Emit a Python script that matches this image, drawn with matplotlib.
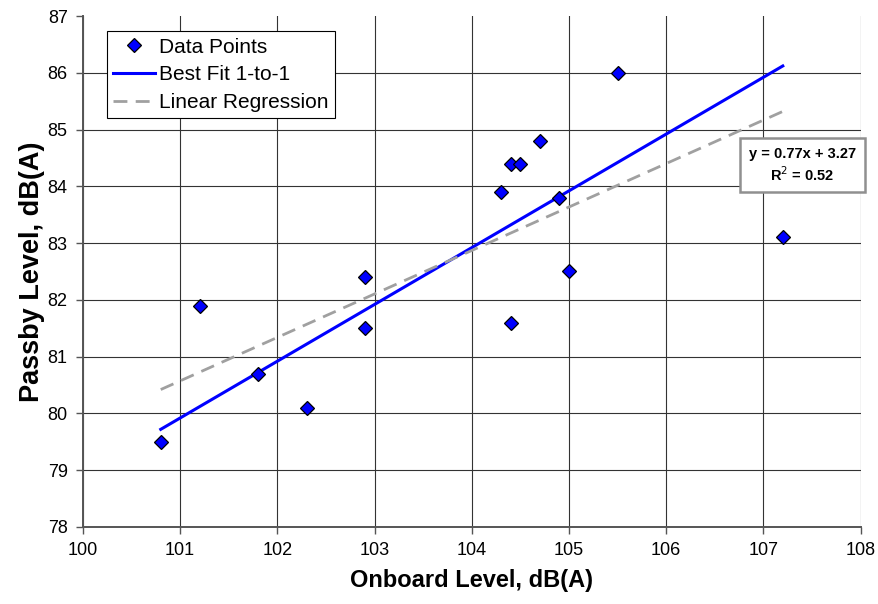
import numpy as np
import matplotlib.pyplot as plt

plt.rcParams['font.family'] = ['Liberation Sans', 'DejaVu Sans']

# datos
onboard = [100.8, 101.2, 101.8, 102.3, 102.9, 102.9, 104.3, 104.4, 104.5,
           104.7, 104.9, 105.0, 104.4, 105.5, 107.2]
passby = [79.5, 81.9, 80.7, 80.1, 82.4, 81.5, 83.9, 84.4, 84.4,
          84.8, 83.8, 82.5, 81.6, 86.0, 83.1]
x_ticks = [100, 101, 102, 103, 104, 105, 106, 107, 108]
y_ticks = [78, 79, 80, 81, 82, 83, 84, 85, 86, 87]

x = np.array(onboard)
y = np.array(passby)

# ajuste 1 a 1 (pendiente fija) y regresion lineal
offset = y.mean() - x.mean()
slope, intercept = np.polyfit(x, y, 1)
r2 = np.corrcoef(x, y)[0, 1] ** 2
x_line = np.array([x.min(), x.max()])

fig = plt.figure(figsize=(8.79, 6.04), dpi=100)
ax = fig.add_axes([0.0944, 0.1275, 0.8846, 0.846])

ax.plot(x, y, linestyle='none', marker='D', markersize=7, markerfacecolor='#0000FF',
        markeredgecolor='black', markeredgewidth=0.9, label='Data Points', zorder=4)
ax.plot(x_line, x_line + offset, color='#0000FF', linewidth=2.2, label='Best Fit 1-to-1', zorder=3)
ax.plot(x_line, slope * x_line + intercept, color='#A0A0A0', linewidth=2.0,
        dashes=(5, 3), label='Linear Regression', zorder=3)

ax.set_xlim(100, 108)
ax.set_ylim(78, 87)
ax.set_xticks(x_ticks)
ax.set_yticks(y_ticks)
ax.tick_params(axis='both', labelsize=13, length=5, width=1, color='#555555', pad=6)
ax.grid(True, color='#333333', linewidth=0.8)
ax.set_axisbelow(True)
ax.yaxis.get_gridlines()[-1].set_visible(False)
for s in ['top', 'right']:
    ax.spines[s].set_visible(False)
for s in ['left', 'bottom']:
    ax.spines[s].set_color('#555555')
    ax.spines[s].set_linewidth(1.4)

ax.set_xlabel('Onboard Level, dB(A)', fontsize=17, fontweight='bold', labelpad=7)
ax.set_ylabel('Passby Level, dB(A)', fontsize=19.5, fontweight='bold', labelpad=2)

leg = ax.legend(loc='upper left', bbox_to_anchor=(0.031, 0.97), fontsize=15, frameon=True,
                fancybox=False, edgecolor='black', framealpha=1, borderpad=0.3,
                labelspacing=0.42, handlelength=2.0, handletextpad=0.2, borderaxespad=0)
leg.get_frame().set_linewidth(0.8)

ax.text(0.925, 0.708, f'y = {slope:.2f}x + {intercept:.2f}\nR$^2$ = {r2:.2f}',
        transform=ax.transAxes, ha='center', va='center', fontsize=10.5,
        fontweight='bold', linespacing=1.25,
        bbox=dict(boxstyle='square,pad=0.6', facecolor='white', edgecolor='#909090', linewidth=1.8))

plt.savefig('out.png', dpi=100)
